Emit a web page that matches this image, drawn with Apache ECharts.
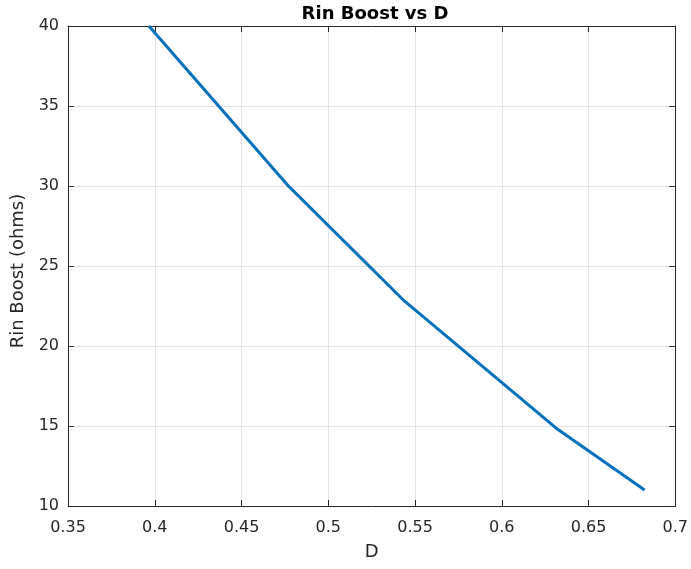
<!DOCTYPE html>
<html><head><meta charset="utf-8">
<script src="https://cdn.jsdelivr.net/npm/echarts@6/dist/echarts.min.js"></script>
<style>html,body{margin:0;padding:0;background:#fff}#c{width:691px;height:569px}</style>
</head><body><div id="c"></div>
<script>
const dutyCycle = [0.3966, 0.4774, 0.5440, 0.6312, 0.6823];
const rinBoost = [40.0, 29.96, 22.8, 14.88, 11.0];
const xTicks = [0.35, 0.4, 0.45, 0.5, 0.55, 0.6, 0.65, 0.7];
const yTicks = [10, 15, 20, 25, 30, 35, 40];

const font = '"DejaVu Sans", "Liberation Sans", Arial, sans-serif';
const axisColor = '#262626';
const chart = echarts.init(document.getElementById('c'));
const mkX = (pos, labels) => ({
  type: 'value', position: pos, min: xTicks[0], max: xTicks[xTicks.length - 1], interval: 0.05,
  axisLine: {show: true, onZero: false, lineStyle: {color: axisColor, width: 1}},
  axisTick: {show: true, inside: true, length: 6, lineStyle: {color: axisColor}},
  axisLabel: {show: labels, color: axisColor, fontFamily: font, fontSize: 16, margin: 14,
    formatter: v => String(+v.toFixed(2))},
  splitLine: {show: labels, lineStyle: {color: '#e3e3e3', width: 1}}
});
const mkY = (pos, labels) => ({
  type: 'value', position: pos, min: yTicks[0], max: yTicks[yTicks.length - 1], interval: 5,
  axisLine: {show: true, onZero: false, lineStyle: {color: axisColor, width: 1}},
  axisTick: {show: true, inside: true, length: 6, lineStyle: {color: axisColor}},
  axisLabel: {show: labels, color: axisColor, fontFamily: font, fontSize: 16, margin: 9},
  splitLine: {show: labels, lineStyle: {color: '#e3e3e3', width: 1}}
});
const xa = mkX('bottom', true);
xa.name = 'D'; xa.nameLocation = 'middle'; xa.nameGap = 37;
xa.nameTextStyle = {color: axisColor, fontFamily: font, fontSize: 18};
const ya = mkY('left', true);
ya.name = 'Rin Boost (ohms)'; ya.nameLocation = 'middle'; ya.nameGap = 31;
ya.nameTextStyle = {color: axisColor, fontFamily: font, fontSize: 18, padding: [0, 10, 0, 0]};

chart.setOption({
  animation: false,
  backgroundColor: '#fff',
  title: {text: 'Rin Boost vs D', left: 370, textAlign: 'center', top: 0,
    textStyle: {fontFamily: font, fontSize: 18, fontWeight: 'bold', color: '#000'}},
  grid: {left: 68, right: 13, top: 26, bottom: 63, containLabel: false},
  xAxis: [xa, mkX('top', false)],
  yAxis: [ya, mkY('right', false)],
  series: [{
    type: 'line', data: dutyCycle.map((d, i) => [d, rinBoost[i]]),
    showSymbol: false, symbol: 'none', clip: true,
    lineStyle: {color: '#0072BD', width: 3}
  }]
});
</script></body></html>
